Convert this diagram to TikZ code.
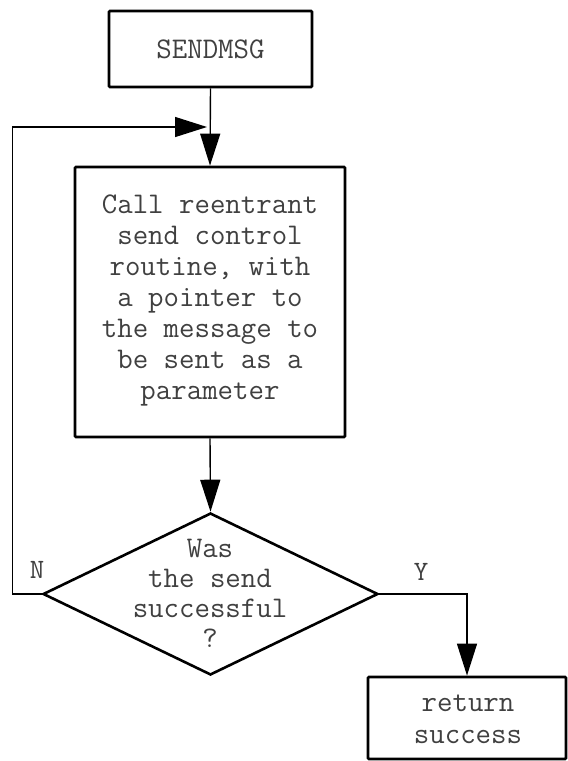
\documentclass[tikz,border=0pt]{standalone}
\usepackage{fontspec}
\usetikzlibrary{arrows.meta,shapes.geometric}

\begin{document}
\begin{tikzpicture}[x=1pt,y=-1pt,
  txt/.style={font=\ttfamily\fontsize{30}{31}\selectfont, text=black!75, align=center},
  box/.style={draw, line width=2.8pt, rounded corners=1pt, inner sep=0pt},
  arr/.style={line width=1.4pt, -{Triangle[length=32pt,width=20pt]}},
  lbl/.style={font=\ttfamily\fontsize{28}{30}\selectfont, text=black!75, inner sep=0pt}
]
\useasboundingbox (0,0) rectangle (568,761);

% process boxes
\node[box, minimum width=203pt, minimum height=76pt] (start) at (210.5,49) {};
\node[txt] (starttxt) at (start.center) {SENDMSG};

\node[box, minimum width=270pt, minimum height=270pt] (call) at (210,302) {};
\node[txt] (calltxt) at (210,300) {Call reentrant\\send control\\routine, with\\a pointer to\\the message to\\be sent as a\\parameter};

% decision
\node[draw, diamond, line width=2.6pt, inner sep=0pt,
      minimum width=335pt, minimum height=162pt] (dec) at (210.5,594) {};
\node[txt, font=\ttfamily\fontsize{30}{30}\selectfont] (dectxt) at (210,593) {Was\\the send\\successful\\?};

\node[box, minimum width=198pt, minimum height=82pt] (ret) at (467,718) {};
\node[txt, font=\ttfamily\fontsize{30}{32}\selectfont] (rettxt) at (468,719) {return\\success};

% branch labels
\node[lbl] (nlab) at (37,570) {N};
\node[lbl] (ylab) at (421,572) {Y};

% connectors
\coordinate (lk) at (12.5,127);
\coordinate (loopin) at (207,127);

\draw[arr] (start.south) -- (call.north);
\draw[arr] (call.south) -- (dec.north);
\draw[arr] (dec.east) -| (ret.north);
\draw[arr] (dec.west) -| (lk) -- (loopin);
\end{tikzpicture}
\end{document}
